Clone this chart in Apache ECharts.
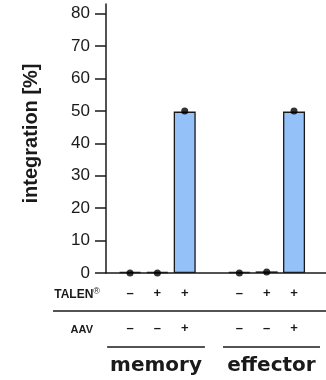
<!DOCTYPE html>
<html>
<head>
<meta charset="utf-8">
<style>
  html, body { margin: 0; padding: 0; background: #fff; }
  #chart { width: 326px; height: 380px; }
</style>
<script src="https://cdn.jsdelivr.net/npm/echarts@6/dist/echarts.min.js"></script>
</head>
<body>
<div id="chart"></div>
<script>
// Sample slots along the x scale (slot 4 is the gap between the two cell types)
const slots = [1, 2, 3, 5, 6, 7];
const cellTypes = ['memory', 'effector'];
const cellTypeSpan = [[0.16, 3.74], [4.4, 7.95]];
const talenSigns = ['\u2013', '+', '+', '\u2013', '+', '+'];
const aavSigns = ['\u2013', '\u2013', '+', '\u2013', '\u2013', '+'];
const integrationMean = [0.3, 0.3, 49.8, 0.3, 0.5, 49.8];
const integrationPoints = [0, 0, 50, 0, 0.3, 50];
const yTicks = [0, 10, 20, 30, 40, 50, 60, 70, 80];

const X_MIN = 0.12, X_MAX = 8.17;
const INK = '#1a1a1a';
const FONT = 'Liberation Sans, Arial, sans-serif';

const chart = echarts.init(document.getElementById('chart'), null, { renderer: 'canvas' });

function labelAxis(values, texts, offset, style) {
  return {
    type: 'value', gridIndex: 0, position: 'bottom', min: X_MIN, max: X_MAX,
    offset: offset,
    axisLine: { show: false }, axisTick: { show: false }, splitLine: { show: false },
    axisLabel: Object.assign({
      customValues: values,
      margin: 8,
      formatter: v => { const i = values.findIndex(s => Math.abs(s - v) < 1e-6); return i >= 0 ? texts[i] : ''; }
    }, style)
  };
}

const groupCenters = cellTypeSpan.map(s => (s[0] + s[1]) / 2);

chart.setOption({
  animation: false,
  grid: { left: 106, right: 0, top: 4, bottom: 107, containLabel: false },
  xAxis: [
    {
      type: 'value', min: X_MIN, max: X_MAX,
      axisLine: { show: true, lineStyle: { color: INK, width: 1.5 } },
      axisTick: { show: false }, axisLabel: { show: false }, splitLine: { show: false }
    },
    labelAxis(slots, talenSigns, 6, { color: INK, fontSize: 13, fontWeight: 'bold', fontFamily: FONT }),
    labelAxis(slots, aavSigns, 41, { color: INK, fontSize: 13, fontWeight: 'bold', fontFamily: FONT }),
    labelAxis(groupCenters, cellTypes, 75, { color: INK, fontSize: 20, fontWeight: 'bold', fontFamily: 'DejaVu Sans, sans-serif' })
  ],
  yAxis: {
    type: 'value', min: 0, max: 83, interval: 10,
    name: 'integration [%]', nameLocation: 'middle', nameGap: 65,
    nameTextStyle: { color: INK, fontSize: 20, fontWeight: 'bold', fontFamily: FONT, padding: [0, 0, 0, 10] },
    axisLine: { show: true, lineStyle: { color: INK, width: 1.5 } },
    axisTick: { show: true, length: 11, customValues: yTicks, lineStyle: { color: INK, width: 1.5 } },
    axisLabel: { customValues: yTicks, margin: 16, color: INK, fontSize: 17, fontFamily: FONT },
    splitLine: { show: false }
  },
  series: [
    {
      type: 'bar', xAxisIndex: 0, barWidth: 22,
      data: slots.map((s, i) => [s, integrationMean[i]]),
      itemStyle: { color: '#94c1f7', borderColor: INK, borderWidth: 1.3 }
    },
    {
      type: 'scatter', xAxisIndex: 0, symbol: 'circle', symbolSize: 7, z: 5,
      data: slots.map((s, i) => [s, integrationPoints[i]]),
      itemStyle: { color: '#000' }
    }
  ]
});

// Table rules and row headings below the plot, placed from the x scale
function px(x, y) { return chart.convertToPixel({ xAxisIndex: 0, yAxisIndex: 0 }, [x, y]); }
const base = px(X_MIN, 0);
const right = px(X_MAX, 0)[0];
const ruleY = base[1] + 38;
const groupRuleY = base[1] + 74;
const graphics = [
  { type: 'line', shape: { x1: 53, y1: ruleY, x2: right, y2: ruleY }, style: { stroke: INK, lineWidth: 1.5 } },
  {
    type: 'text', x: 100, y: base[1] + 22,
    style: {
      text: '{t|TALEN}{r|\u00AE}', align: 'right', verticalAlign: 'middle',
      rich: {
        t: { fontSize: 12, fontWeight: 'bold', fontFamily: FONT, fill: INK },
        r: { fontSize: 9, fontFamily: FONT, fill: INK, verticalAlign: 'top', padding: [0, 0, 6, 0] }
      }
    }
  },
  {
    type: 'text', x: 93, y: base[1] + 57,
    style: { text: 'AAV', align: 'right', verticalAlign: 'middle', fontSize: 11, fontWeight: 'bold', fontFamily: FONT, fill: INK }
  }
];
cellTypeSpan.forEach(s => {
  graphics.push({
    type: 'line',
    shape: { x1: px(s[0], 0)[0], y1: groupRuleY, x2: px(s[1], 0)[0], y2: groupRuleY },
    style: { stroke: INK, lineWidth: 1.5 }
  });
});
chart.setOption({ graphic: graphics });
</script>
</body>
</html>
